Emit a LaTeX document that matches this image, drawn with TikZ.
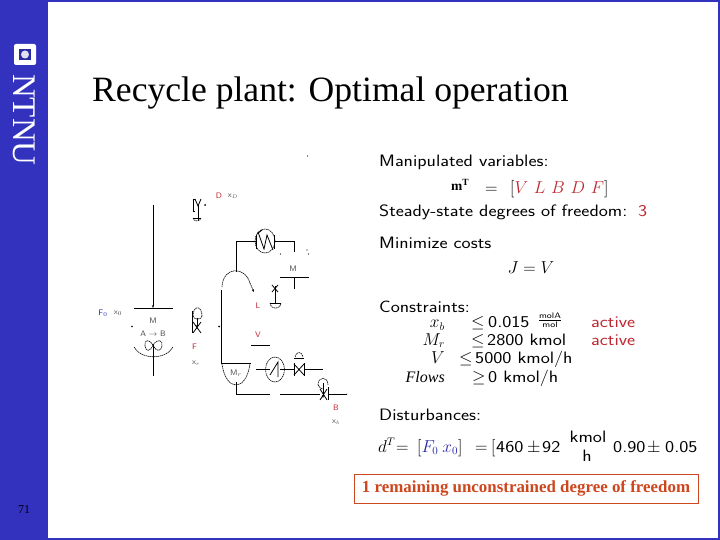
\documentclass[tikz,border=0pt]{standalone}
\usepackage{amsmath}
\usepackage{fontspec}
\setmainfont{Liberation Serif}
\setsansfont[FakeStretch=1.17]{Latin Modern Sans}
\newfontfamily\labfont{Latin Modern Sans}
\usetikzlibrary{arrows.meta}
\definecolor{ntnublue}{RGB}{50,50,190}
\definecolor{procred}{RGB}{190,40,50}
\definecolor{boxred}{RGB}{205,70,30}
\definecolor{fblue}{RGB}{40,40,170}
\tikzset{
 pline/.style={line width=0.8pt,black},
 dline/.style={line width=0.6pt,black,dash pattern=on 1.5pt off 0.6pt},
 lab/.style={font=\labfont\fontsize{8}{9}\selectfont,inner sep=0pt,text=black!70},
 redlab/.style={lab,text=procred},
 bluelab/.style={lab,text=fblue},
 txt/.style={font=\sffamily\fontsize{16.5}{18}\selectfont,inner sep=0pt,anchor=base west,text=black},
 mth/.style={font=\fontsize{16}{18}\selectfont,inner sep=0pt,anchor=base,text=black},
 sfv/.style={txt},
 act/.style={txt,text=procred},
}
\begin{document}
\begin{tikzpicture}[x=1pt,y=-1pt]
\useasboundingbox (0,0) rectangle (720,540);
\fill[ntnublue] (0,0) rectangle (720,540);
\fill[white] (48,2) rectangle (718,538);
% logo
\fill[white,rounded corners=2pt] (14,44) rectangle (36,65);
\fill[ntnublue!85!black] (19,49) rectangle (31,60);
\fill[white!85!ntnublue] (25,54.5) circle (4);
\node[rotate=-90,text=white,inner sep=0pt,font=\fontsize{33}{33}\selectfont] (logo) at (24.5,120) {NTNU};
% titles
\node[font=\fontsize{35.6}{40}\selectfont,anchor=base west,inner sep=0pt] (title) at (92,102) {Recycle plant: Optimal operation};
\node[font=\fontsize{12}{14}\selectfont,inner sep=0pt] (page) at (24,510) {71};
% process: feed and reactor
\coordinate (feedtop) at (153,205);
\coordinate (rtop) at (153,308);
\draw[pline,-{Stealth[length=3pt]}] (feedtop) -- (rtop);
\coordinate (rl) at (134,308); \coordinate (rr) at (173,308);
\draw[pline] (rl) -- (rr);
\draw[dline] (134,347) .. controls (141,360) and (166,360) .. (173,347);
\coordinate (stirtop) at (153,345); \coordinate (stirbot) at (153,376);
\draw[pline] (stirtop) -- (stirbot);
\draw[dline] (153,345) .. controls (148,338) and (144,340) .. (145,346) .. controls (146,352) and (150,352) .. (153,345)
 .. controls (158,338) and (163,340) .. (162,346) .. controls (161,352) and (156,352) .. (153,345);
\fill (132,326.5) circle (0.8);
\node[bluelab] (Fz) at (103,313) {F$_0$};
\node[lab] (xz) at (118,313) {x$_0$};
\node[lab] (Mreac) at (153,321) {M};
\node[lab] (rx) at (153,334) {A $\to$ B};
% D valve
\draw[pline] (193,199) -- (193,211) ; \draw[pline] (193,199) -- (195,199);
\draw[pline] (193,211) -- (195,211);
\draw[pline] (198,205) -- (198,220);
\draw[pline] (195,199) -- (198,206) -- (201,199);
\draw[pline] (193,218) -- (201,218);
\draw[dline] (193,218) .. controls (194,222) and (200,222) .. (201,218);
\fill (205,205) circle (1);
\node[redlab] (Dl) at (219,196) {D};
\node[lab] (xd) at (233,196) {x$_{\scriptscriptstyle D}$};
% F valve
\draw[pline] (192.5,311) -- (192.5,333);
\draw[pline,-{Stealth[length=3pt]}] (197,318) -- (197,328);
\draw[pline] (193,333) -- (201,322);
\draw[pline] (193,322) -- (201,333);
\draw[dline] (193,316) .. controls (193,305) and (202,305) .. (202,316);
\draw[dline] (193,316) .. controls (194,318) and (195,319) .. (197,319);
\draw[dline] (202,316) .. controls (202,318) and (200,319) .. (198,319);
\node[redlab] (Fl) at (194.5,347) {F};
\node[lab] (xr) at (196,363) {x$_{\scriptscriptstyle r}$};
% column
\draw[pline] (221.5,290) -- (221.5,363) -- (251,363);
\fill (219,326.5) circle (1);
\draw[dline] (222,287) .. controls (223,266) and (245,266) .. (250,283);
\draw[dline,-{Stealth[length=3pt]}] (250,283) .. controls (251,285) and (252,288) .. (254,292);
% top condenser
\draw[pline] (236,272) -- (236,241.5) -- (256,241.5);
\draw[pline] (274,241.5) -- (294.5,241.5) -- (294.5,252);
\draw[dline] (265,241) ellipse (10 and 12);
\draw[pline] (256,235) -- (256,249);
\draw[pline] (274,235) -- (274,249);
\draw[pline] (258,232) -- (264,249) -- (267,235) -- (273,250);
\draw[pline] (257,234) -- (262,230);
% reflux drum
\draw[pline] (280,277) -- (309,277);
\draw[pline] (294.5,277) -- (294.5,289);
\node[lab] (Mdrum) at (293,269) {M};
\fill (280.5,254) circle (0.6); \fill (308.5,254) circle (0.6); \fill (307,250) circle (0.6);
% L valve
\draw[pline] (275,286) -- (275,303);
\draw[pline] (272,285) -- (278,292); \draw[pline] (278,285) -- (272,292);
\draw[pline] (270,303) -- (281,303);
\draw[dline] (270,303) .. controls (271,310) and (280,310) .. (281,303);
\node[redlab] (Ll) at (258,306) {L};
\node[redlab] (Vl) at (258,335) {V};
\draw[pline] (251,345) -- (270,345);
% bottom of column
\draw[dline] (222,364) .. controls (226,392) and (246,392) .. (250,364);
\node[lab] (Mr) at (236,373) {M$_{\scriptstyle r}$};
\draw[pline] (236,382) -- (236,394.5) -- (270,394.5);
\draw[pline] (280,394.5) -- (320,394.5);
\draw[pline] (328,394.5) -- (347,394.5);
% reboiler
\draw[pline] (256,369.5) -- (270,369.5);
\draw[dline] (275,369.5) ellipse (9.5 and 12.5);
\draw[pline] (270,375) -- (278,362) -- (278,377);
\draw[pline] (280,369.5) -- (294,369.5);
% steam valve
\draw[pline] (294,363) -- (294,376);
\draw[pline] (304,363) -- (304,376);
\draw[pline] (294,364) -- (304,375); \draw[pline] (304,364) -- (294,375);
\draw[pline] (304,369.5) -- (323,369.5);
\draw[pline] (294,358) -- (304,358);
\draw[dline] (295,357) .. controls (296,351) and (302,351) .. (303,357);
% B valve
\draw[dline] (318,385) .. controls (318,376) and (328,376) .. (328,385);
\draw[dline] (318,385) .. controls (319,388) and (322,389) .. (323,389);
\draw[pline,-{Stealth[length=3pt]}] (323,383) -- (323,398);
\draw[pline] (320,389) -- (327,400);
\draw[pline] (327,389) -- (320,400);
\draw[pline] (328,387) -- (328,400);
\fill (347,394) circle (0.4);
\node[redlab] (Bl) at (336,408) {B};
\node[lab] (xb) at (336,422) {x$_{\scriptscriptstyle b}$};
\fill (307.5,156) circle (0.6);
% right text
\node[txt] (t1) at (379,167) {Manipulated variables:};
\node[mth,anchor=base west] (t2a) at (451,191) {\fontsize{13.5}{14}\selectfont\bfseries m$^{\mathbf{T}}$};
\node[mth,anchor=base west] (t2eq) at (485,194) {$=$};
\node[mth,anchor=base west] (t2) at (510,194) {$[\textcolor{procred}{V\mkern6mu L\mkern6mu B\mkern6mu D\mkern6mu F}]$};
\node[txt] (t3) at (379,216) {Steady-state degrees of freedom:};
\node[act] (t3b) at (638,216) {3};
\node[txt] (t4) at (379,248) {Minimize costs};
\node[mth] (t5) at (531,273) {$J=V$};
\node[txt] (t6) at (379,312) {Constraints:};
\node[mth,anchor=base east] (c1) at (445,327.5) {$x_b$};
\node[mth,anchor=base west] (c1b) at (471,327) {$\leq$};
\node[sfv] (c1n) at (488,327) {0.015};
\node[mth] (c1c) at (550,323) {\sffamily\fontsize{12}{13}\selectfont$\genfrac{}{}{0.4pt}{}{\text{molA}}{\text{mol}}$};
\node[act] (a1) at (591,327) {active};
\node[mth,anchor=base east] (c2) at (445,345) {$M_r$};
\node[mth,anchor=base west] (c2b) at (471,345) {$\leq$};
\node[sfv] (c2n) at (487,345) {2800 kmol};
\node[act] (a2) at (591,345) {active};
\node[mth,anchor=base east] (c3) at (445,363) {$V$};
\node[mth,anchor=base west] (c3b) at (459,363) {$\leq$};
\node[sfv] (c3n) at (475,363) {5000 kmol/h};
\node[mth,anchor=base east] (c4) at (445,382) {$\mathit{Flows}$};
\node[mth,anchor=base west] (c4b) at (472,382) {$\geq$};
\node[sfv] (c4n) at (488,382) {0 kmol/h};
\node[txt] (t7) at (379,420) {Disturbances:};
\node[mth,anchor=base west] (d1) at (378,452) {$d^T$};
\node[mth,anchor=base west] (d1b) at (396,452) {$=$};
\node[mth,anchor=base west] (d1f) at (417,452) {$[\textcolor{fblue}{F_0\ x_0}]$};
\node[mth,anchor=base west] (d1g) at (475,452) {$=$};
\node[mth,anchor=base west] (d1h) at (491,452) {$[$};
\node[sfv] (d1c) at (496,452) {460};
\node[mth,anchor=base west] (d1d) at (527,452) {$\pm$};
\node[sfv] (d1e) at (542,452) {92};
\node[txt,anchor=base] (d2) at (588,442) {kmol};
\node[txt,anchor=base] (d3) at (587,461) {h};
\node[sfv] (d4) at (613,452) {0.90};
\node[mth,anchor=base west] (d4b) at (647,452) {$\pm$};
\node[sfv] (d4c) at (665,452) {0.05};
\node[draw=boxred,line width=0.8pt,minimum width=344pt,minimum height=29pt,inner sep=0pt,text=boxred,font=\bfseries\fontsize{16.9}{18}\selectfont] (box) at (526,488.5) {1 remaining unconstrained degree of freedom};
\end{tikzpicture}
\end{document}
